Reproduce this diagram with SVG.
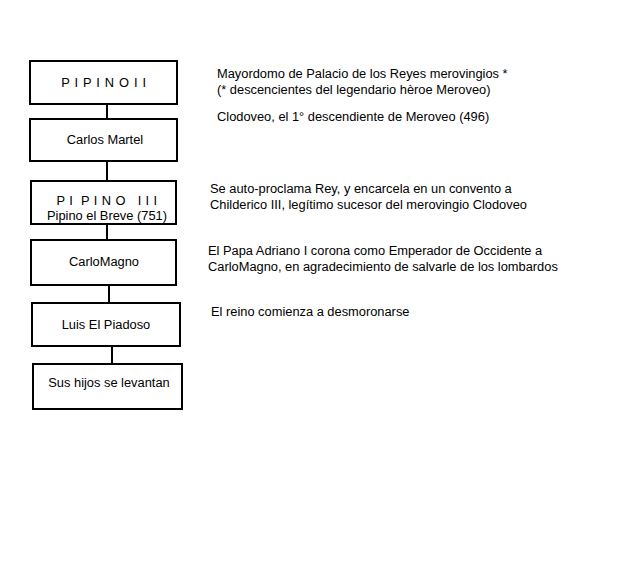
<svg xmlns="http://www.w3.org/2000/svg" width="617" height="568" viewBox="0 0 617 568">
<style>
.box{fill:#fff;stroke:#000;stroke-width:2}
.t{font-family:"Liberation Sans",Arial,sans-serif;font-size:12.85px;fill:#000;white-space:pre}
.c{text-anchor:middle}
.ln{stroke:#000;stroke-width:2;fill:none}
</style>
<rect width="617" height="568" fill="#fff"/>
<g id="connectors">
<line class="ln" x1="107" y1="104" x2="107" y2="119"/>
<line class="ln" x1="107" y1="161" x2="107" y2="181"/>
<line class="ln" x1="107" y1="224" x2="107" y2="240"/>
<line class="ln" x1="109" y1="285" x2="109" y2="303"/>
<line class="ln" x1="112" y1="346" x2="112" y2="364"/>
</g>
<g id="n1"><rect class="box" x="30" y="61" width="147" height="43"/><text class="t c" x="104" y="87" letter-spacing="0.7" xml:space="preserve">P I P I N O I I</text></g>
<g id="n2"><rect class="box" x="30" y="119" width="147" height="42"/><text class="t c" x="105" y="144">Carlos Martel</text></g>
<g id="n3"><rect class="box" x="31" y="181" width="145" height="43"/><text class="t c" x="107" y="205" letter-spacing="0.4" xml:space="preserve">P I  P I N O   I I I</text><text class="t c" x="107" y="220">Pipino el Breve (751)</text></g>
<g id="n4"><rect class="box" x="31" y="240" width="145" height="45"/><text class="t c" x="104" y="266">CarloMagno</text></g>
<g id="n5"><rect class="box" x="32" y="303" width="148" height="43"/><text class="t c" x="106" y="329">Luis El Piadoso</text></g>
<g id="n6"><rect class="box" x="33" y="364" width="149" height="45"/><text class="t c" x="109" y="387">Sus hijos se levantan</text></g>
<g id="notes">
<text class="t" x="217" y="78">Mayordomo de Palacio de los Reyes merovingios *</text>
<text class="t" x="217" y="94">(* descencientes del legendario hèroe Meroveo)</text>
<text class="t" x="217" y="121">Clodoveo, el 1° descendiente de Meroveo (496)</text>
<text class="t" x="210" y="193">Se auto-proclama Rey, y encarcela en un convento a</text>
<text class="t" x="210" y="209">Childerico III, legítimo sucesor del merovingio Clodoveo</text>
<text class="t" x="208" y="255">El Papa Adriano I corona como Emperador de Occidente a</text>
<text class="t" x="208" y="271">CarloMagno, en agradecimiento de salvarle de los lombardos</text>
<text class="t" x="211" y="316">El reino comienza a desmoronarse</text>
</g>
</svg>
